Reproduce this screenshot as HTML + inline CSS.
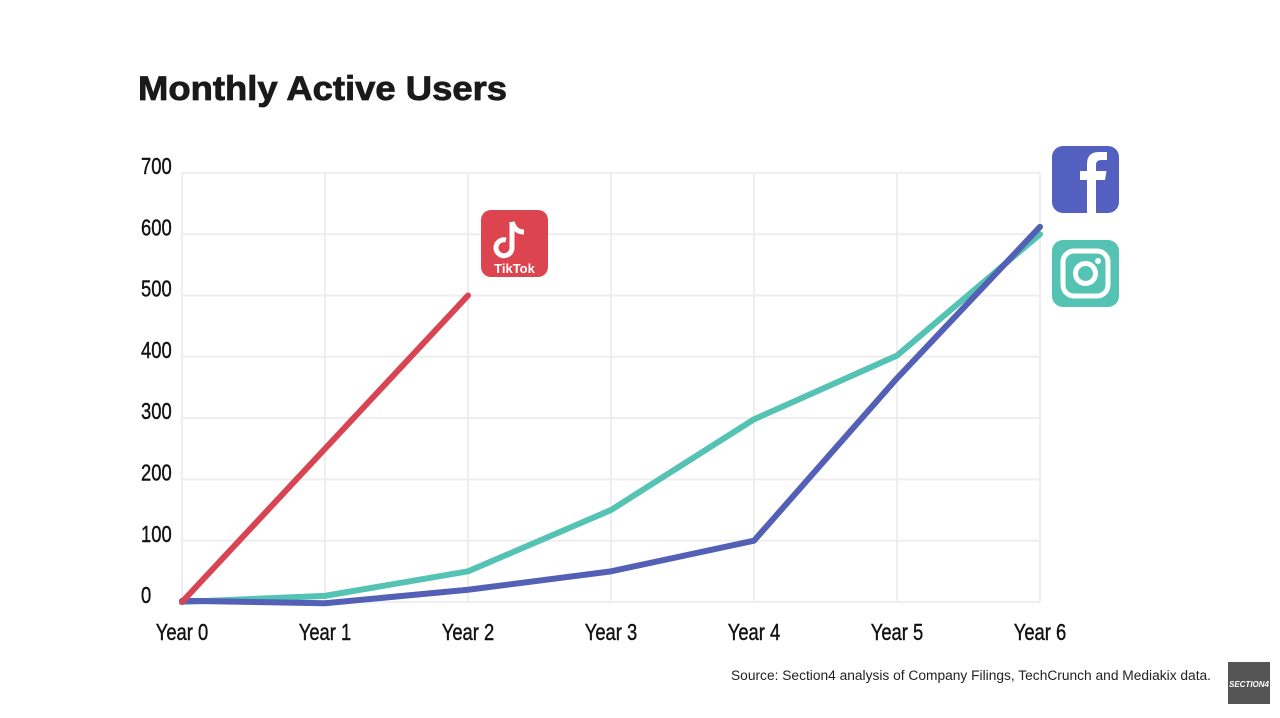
<!DOCTYPE html>
<html><head><meta charset="utf-8"><style>
body{margin:0;width:1280px;height:713px;background:#fff;overflow:hidden;font-family:"Liberation Sans",sans-serif}
</style></head><body>
<svg width="1280" height="713" viewBox="0 0 1280 713">
<text x="138" y="100" font-size="34" font-weight="bold" fill="#1a1a1a" stroke="#1a1a1a" stroke-width="0.8" textLength="369" lengthAdjust="spacingAndGlyphs">Monthly Active Users</text>
<g id="grid"></g>
<g id="lines"></g>
<g>
<rect x="481" y="210" width="67" height="67" rx="10" fill="#dc4450"/>
<path d="M512 222 v26 a8 8 0 1 1 -6 -8 M512 222 q3 10 12 10" fill="none" stroke="#fff" stroke-width="5"/>
<text x="514.5" y="273" font-size="13" font-weight="bold" fill="#fff" text-anchor="middle">TikTok</text>
</g>
<g>
<rect x="1052" y="146" width="67" height="67" rx="11" fill="#5360bf"/>
<path d="M1096 213 v-33 h9 l1.5 -9 h-10.5 v-6 q0 -5 5 -5 h6 v-8 h-8 q-12 0 -12 12 v7 h-7 v9 h7 v33 z" fill="#fff"/>
</g>
<g>
<rect x="1052" y="240" width="67" height="67" rx="11" fill="#55c3b3"/>
<rect x="1063" y="251" width="45" height="45" rx="11" fill="none" stroke="#fff" stroke-width="5"/>
<circle cx="1085.5" cy="273.5" r="10" fill="none" stroke="#fff" stroke-width="5"/>
<circle cx="1098" cy="261" r="3" fill="#fff"/>
</g>
<text x="1211" y="680" font-size="13.5" fill="#222" text-anchor="end" textLength="480" lengthAdjust="spacingAndGlyphs">Source: Section4 analysis of Company Filings, TechCrunch and Mediakix data.</text>
<g>
<rect x="1228" y="662" width="42" height="42" fill="#555"/>
<text x="1249" y="687" font-size="8" font-style="italic" font-weight="bold" fill="#fff" text-anchor="middle">SECTION4</text>
</g>
</svg>
<script>
const categories=["Year 0","Year 1","Year 2","Year 3","Year 4","Year 5","Year 6"];
const yTicks=[0,100,200,300,400,500,600,700];
const tiktok=[0,250,500];
const instagram=[0,10,50,150,298,402,600];
const facebook=[2,-2,20,50,100,365,612];
const NS="http://www.w3.org/2000/svg";
const x0=182,dx=143,y0=602,k=61.3/100;
const X=i=>x0+i*dx, Y=v=>y0-v*k;
const grid=document.getElementById('grid'),lines=document.getElementById('lines');
function mk(t,a,p){const e=document.createElementNS(NS,t);for(const q in a)e.setAttribute(q,a[q]);p.appendChild(e);return e;}
yTicks.forEach(v=>{
 const l=mk('line',{x1:X(0),x2:X(6),y1:Y(v),y2:Y(v),stroke:'#eeeeee','stroke-width':2},grid);
 
 
 const t=mk('text',{x:141/0.8,y:Y(v)-5,'font-size':23,fill:'#111',stroke:'#111','stroke-width':0.4,'dominant-baseline':'middle',transform:'scale(0.8,1)','font-family':'Liberation Sans Narrow, Liberation Sans, sans-serif'},grid);
 t.textContent=v;
 
 
});
categories.forEach((c,i)=>{
 const l=mk('line',{x1:X(i),x2:X(i),y1:Y(700),y2:Y(0),stroke:'#eeeeee','stroke-width':2},grid);
 
 
 const t=mk('text',{x:X(i)/0.8,y:640,'font-size':23,fill:'#111',stroke:'#111','stroke-width':0.4,'text-anchor':'middle',transform:'scale(0.8,1)','font-family':'Liberation Sans Narrow, Liberation Sans, sans-serif'},grid);
 t.textContent=c;
 
 
});
function series(d,col,name){
 const p=mk('polyline',{points:d.map((v,i)=>X(i)+','+Y(v)).join(' '),fill:'none',stroke:col,'stroke-width':6,'stroke-linejoin':'round','stroke-linecap':'round'},lines);
 
 
}
series(instagram,'#55c3b3','instagram-line');
series(facebook,'#5360b5','facebook-line');
series(tiktok,'#d94452','tiktok-line');
</script>
</body></html>
